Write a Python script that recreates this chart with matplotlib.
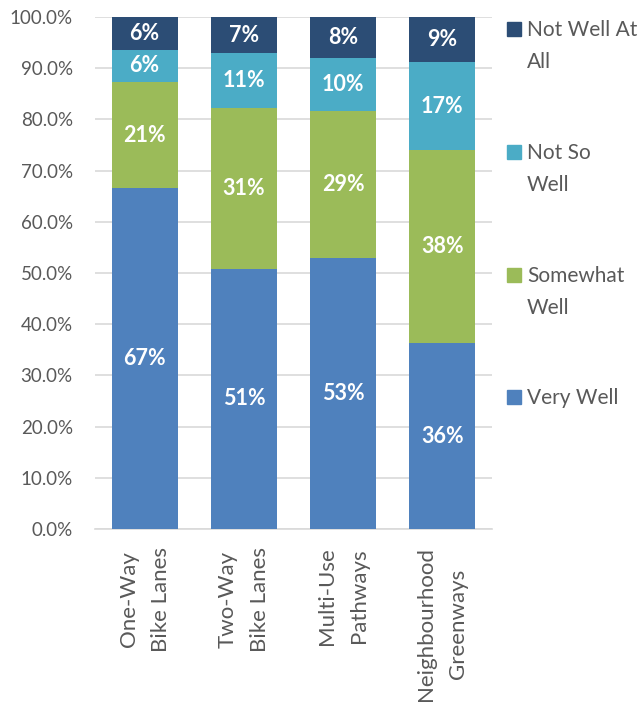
import matplotlib
matplotlib.use("Agg")
import matplotlib.pyplot as plt
from matplotlib.patches import Rectangle
import numpy as np

categories = ["One-Way\nBike Lanes", "Two-Way\nBike Lanes", "Multi-Use\nPathways", "Neighbourhood\nGreenways"]
very_well = [66.6, 50.8, 52.9, 36.3]
somewhat_well = [20.7, 31.4, 28.7, 37.7]
not_so_well = [6.3, 10.7, 10.4, 17.2]
not_well_at_all = [6.4, 7.1, 8.0, 8.8]
series_names = ["Very Well", "Somewhat Well", "Not So Well", "Not Well At All"]
legend_labels = ["Not Well At\nAll", "Not So\nWell", "Somewhat\nWell", "Very Well"]
colors = ["#4F81BD", "#9BBB59", "#4BACC6", "#2C4D75"]

plt.rcParams['font.family'] = ['Lato', 'DejaVu Sans']
W, H = 639, 704
fig = plt.figure(figsize=(W / 100, H / 100), dpi=100)
ax = fig.add_axes([95 / W, 1 - 529 / H, (492 - 95) / W, (529 - 17) / H])

x = np.arange(len(categories))
series = [very_well, somewhat_well, not_so_well, not_well_at_all]
bottom = np.zeros(len(categories))
for vals, col in zip(series, colors):
    v = np.array(vals) / 100.0
    ax.bar(x, v, width=0.667, bottom=bottom, color=col, zorder=3)
    for xi, b, h, val in zip(x, bottom, v, vals):
        ax.text(xi, b + h / 2, f"{round(val):d}%", ha="center", va="center",
                color="white", fontsize=15.5, fontweight="bold", zorder=4)
    bottom += v

ax.set_xlim(-0.5, len(categories) - 0.5)
ax.set_ylim(0, 1)
ax.set_yticks(np.arange(0, 1.01, 0.1))
ax.set_yticklabels([f"{t*100:.1f}%" for t in np.arange(0, 1.01, 0.1)])
ax.yaxis.grid(True, color="#d9d9d9", linewidth=1.2, zorder=0)
ax.set_axisbelow(True)
for s in ["top", "right", "left"]:
    ax.spines[s].set_visible(False)
ax.spines["bottom"].set_color("#d9d9d9")
ax.spines["bottom"].set_linewidth(1.2)
ax.tick_params(axis="both", length=0, colors="#595959")
ax.tick_params(axis="y", pad=16, labelsize=13.5)
ax.tick_params(axis="x", pad=13, labelsize=16)
ax.set_xticks(x)
ax.set_xticklabels(categories, rotation=90, ha="center", va="top",
                   multialignment="center", linespacing=1.75)

# legend (manual, squares aligned to first line)
leg_y = [29, 152, 275, 397]
leg_colors = colors[::-1]
for yc, lab, col in zip(leg_y, legend_labels, leg_colors):
    fig.add_artist(Rectangle((507 / W, 1 - (yc + 7) / H), 14 / W, 14 / H,
                             transform=fig.transFigure, color=col))
    fig.text(527 / W, 1 - (yc - 9) / H, lab, ha="left", va="top",
             fontsize=15, color="#595959", linespacing=1.75)

fig.savefig("out.png", dpi=100)
